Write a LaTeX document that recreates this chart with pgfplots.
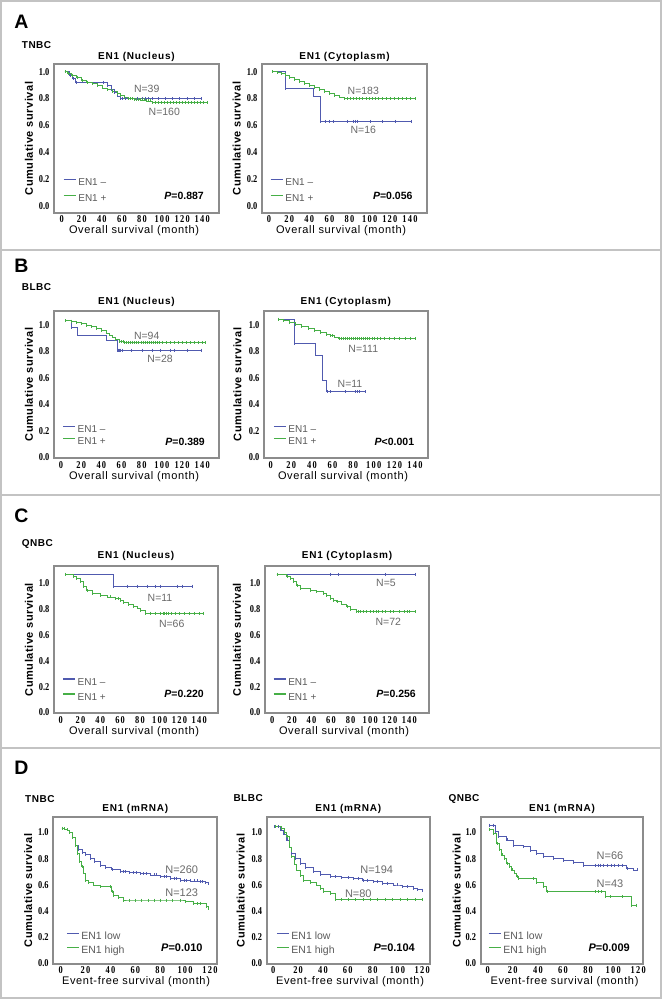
\documentclass[border=0pt]{standalone}
\usepackage{pgfplots}
\pgfplotsset{compat=1.18}
\usepackage{fontspec}
\setmainfont{Liberation Sans}
\newfontfamily\tickfont[FakeStretch=0.8]{Liberation Serif}
\definecolor{cblue}{RGB}{80,90,175}
\definecolor{cgreen}{RGB}{70,175,70}
\definecolor{boxgray}{RGB}{140,140,140}
\definecolor{framegray}{RGB}{195,195,195}
\definecolor{ngray}{RGB}{105,105,105}
\definecolor{leggray}{RGB}{90,90,90}
\newcommand\titlef{\fontsize{10}{12}\selectfont\bfseries\addfontfeatures{LetterSpace=8}}
\newcommand\ylabf{\fontsize{11}{13}\selectfont\bfseries\addfontfeatures{LetterSpace=5}}
\newcommand\xlabf{\fontsize{11}{13}\selectfont\addfontfeatures{LetterSpace=6}}
\newcommand\subf{\fontsize{10}{12}\selectfont\bfseries\addfontfeatures{LetterSpace=5}}
\newcommand\letf{\fontsize{19.5}{22}\selectfont\bfseries}
\newcommand\nf{\fontsize{10.5}{12}\selectfont\color{ngray}}
\newcommand\nfd{\fontsize{11}{13}\selectfont\color{ngray}}
\newcommand\pf{\fontsize{10.5}{12}\selectfont\bfseries}
\newcommand\pfd{\fontsize{11}{13}\selectfont\bfseries}
\newcommand\legf{\fontsize{10}{12}\selectfont}
\newcommand\legfd{\fontsize{10.5}{12}\selectfont}
\newcommand\ytickf{\tickfont\bfseries\fontsize{10.5}{11}\selectfont}
\newcommand\xtickf{\tickfont\bfseries\fontsize{10.5}{11}\selectfont\addfontfeatures{LetterSpace=12}}
\newcommand\lt[1]{\textcolor{leggray}{#1}}
\pgfplotsset{
  kmbase/.style={
    scale only axis, anchor=north west,
    axis line style={draw=boxgray, line width=2pt},
    tick style={draw=none},
    ytick={0,0.2,0.4,0.6,0.8,1.0},
    yticklabels={0.0,0.2,0.4,0.6,0.8,1.0},
    yticklabel style={font=\ytickf, inner sep=0pt, anchor=east, xshift=-4.5pt},
    xticklabel style={font=\xtickf, inner sep=0pt, anchor=north, yshift=-3pt},
    legend cell align=left,
    legend style={draw=none, fill=none, anchor=west, font=\legf,
      nodes={inner xsep=2pt, inner ysep=0pt, text height=7pt, text depth=2pt}},
    legend image code/.code={\draw[##1, mark=none, line width=1.2pt] (0pt,3.5pt) -- (12pt,3.5pt);},
    every axis plot/.append style={const plot, line width=0.6pt, mark=|, mark size=1.5pt, mark options={line width=0.35pt}},
  },
  osx/.style={xtick={0,20,40,60,80,100,120,140}, xticklabels={0,20,40,60,80,100,120,140}},
  efx/.style={xtick={0,20,40,60,80,100,120}, xticklabels={0,20,40,60,80,100,120}, legend style={font=\legfd}},
}
\begin{document}
\begin{tikzpicture}
\useasboundingbox (0pt,0pt) rectangle (663pt,-1001pt);
\begin{scope}[x=1pt,y=-1pt]
\draw[framegray, line width=1.2pt] (1,1) rectangle (661,998);
\draw[framegray, line width=1.2pt] (1,250) -- (661,250);
\draw[framegray, line width=1.2pt] (1,495) -- (661,495);
\draw[framegray, line width=1.2pt] (1,748) -- (661,748);
% letters
\node at (21.5,22) {\letf A};
\node at (21.5,265.5) {\letf B};
\node at (21.5,515.5) {\letf C};
\node at (21.5,767.5) {\letf D};
% subgroup labels
\node[anchor=west, inner sep=0pt] at (21.7,44.7) {\subf TNBC};
\node[anchor=west, inner sep=0pt] at (21.7,286.7) {\subf BLBC};
\node[anchor=west, inner sep=0pt] at (21.7,544) {\subf QNBC};
\node[anchor=west, inner sep=0pt] at (25,799.3) {\subf TNBC};
\node[anchor=west, inner sep=0pt] at (233.3,798.3) {\subf BLBC};
\node[anchor=west, inner sep=0pt] at (448.3,799.3) {\subf QNBC};
% titles
\node at (136.5,57) {\titlef EN1 (Nucleus)};
\node at (344.5,57) {\titlef EN1 (Cytoplasm)};
\node at (136.5,302.3) {\titlef EN1 (Nucleus)};
\node at (345.8,302.3) {\titlef EN1 (Cytoplasm)};
\node at (136,556) {\titlef EN1 (Nucleus)};
\node at (347,556) {\titlef EN1 (Cytoplasm)};
\node at (135.3,809) {\titlef EN1 (mRNA)};
\node at (348.3,809) {\titlef EN1 (mRNA)};
\node at (562,809) {\titlef EN1 (mRNA)};
% y labels
\foreach \xx/\yy in {29/138.5,236.7/138.5,29/384.5,237.5/384.5,29/639.7,237/639.7,28.3/890.5,240.7/890.5,456.7/890.5}
  \node[rotate=90] at (\xx,\yy) {\ylabf Cumulative survival};
% x labels
\node at (134,231) {\xlabf Overall survival (month)};
\node at (341,231) {\xlabf Overall survival (month)};
\node at (134,477) {\xlabf Overall survival (month)};
\node at (343,477) {\xlabf Overall survival (month)};
\node at (134,732) {\xlabf Overall survival (month)};
\node at (344,732) {\xlabf Overall survival (month)};
\node at (136,981.7) {\xlabf Event-free survival (month)};
\node at (350,981.7) {\xlabf Event-free survival (month)};
\node at (564.5,981.7) {\xlabf Event-free survival (month)};
% N labels
\node at (146.7,89.3) {\nf N=39};
\node at (164.3,112.3) {\nf N=160};
\node at (363.3,90.7) {\nf N=183};
\node at (363.3,130) {\nf N=16};
\node at (146.7,335.7) {\nf N=94};
\node at (160,359.3) {\nf N=28};
\node at (363.3,349) {\nf N=111};
\node at (350,384.3) {\nf N=11};
\node at (160,598.3) {\nf N=11};
\node at (171.7,624.3) {\nf N=66};
\node at (386,583.3) {\nf N=5};
\node at (388.3,622.3) {\nf N=72};
\node at (181.7,869.3) {\nfd N=260};
\node at (181.7,892.7) {\nfd N=123};
\node at (376.7,869.3) {\nfd N=194};
\node at (358.3,893.3) {\nfd N=80};
\node at (610,855.7) {\nfd N=66};
\node at (610,884) {\nfd N=43};
% P values
\node[anchor=east, inner sep=0pt] at (204,196) {\pf\textit{P}=0.887};
\node[anchor=east, inner sep=0pt] at (412.7,196) {\pf\textit{P}=0.056};
\node[anchor=east, inner sep=0pt] at (205,441.7) {\pf\textit{P}=0.389};
\node[anchor=east, inner sep=0pt] at (414.3,441.7) {\pf\textit{P}<0.001};
\node[anchor=east, inner sep=0pt] at (204,694) {\pf\textit{P}=0.220};
\node[anchor=east, inner sep=0pt] at (416,694) {\pf\textit{P}=0.256};
\node[anchor=east, inner sep=0pt] at (202.7,947.3) {\pfd\textit{P}=0.010};
\node[anchor=east, inner sep=0pt] at (415,947.7) {\pfd\textit{P}=0.104};
\node[anchor=east, inner sep=0pt] at (630,947.3) {\pfd\textit{P}=0.009};
\end{scope}

% ===== A: TNBC nucleus
\begin{axis}[kmbase, osx, at={(54pt,-64.3pt)}, width=165pt, height=148.4pt,
  xmin=-7.67, xmax=156.7, ymin=-0.0499, ymax=1.055,
  legend style={at={(0.036,0.144)}, row sep=7pt}]
\addplot[cblue] coordinates {(3,1.0)(8,0.975)(11,0.95)(14,0.92)(41,0.92)(45,0.895)(49,0.87)(52,0.845)(55,0.82)(58,0.80)(60,0.80)(63,0.80)(66,0.80)(70,0.80)(75,0.80)(80,0.80)(83,0.80)(86,0.80)(90,0.80)(96,0.80)(103,0.80)(110,0.80)(117,0.80)(125,0.80)(132,0.80)(139,0.80)};
\addplot[cgreen] coordinates {(3,1.0)(6,0.99)(10,0.975)(15,0.96)(20,0.935)(25,0.922)(30,0.91)(35,0.895)(40,0.88)(45,0.868)(50,0.855)(55,0.84)(58,0.825)(62,0.81)(66,0.80)(68,0.80)(70,0.80)(72,0.795)(74,0.795)(76,0.795)(78,0.79)(80,0.79)(82,0.79)(84,0.782)(86,0.782)(88,0.782)(90,0.772)(93,0.772)(96,0.772)(99,0.772)(102,0.772)(105,0.772)(108,0.772)(111,0.772)(114,0.772)(117,0.772)(120,0.772)(123,0.772)(126,0.772)(129,0.772)(132,0.772)(135,0.772)(138,0.772)(141,0.772)(145,0.772)};
\legend{\lt{EN1 –}, \lt{EN1 +}}
\end{axis}

% ===== A: TNBC cytoplasm
\begin{axis}[kmbase, osx, at={(262pt,-64.3pt)}, width=164.7pt, height=148.4pt,
  xmin=-6.95, xmax=156.6, ymin=-0.0499, ymax=1.055,
  legend style={at={(0.030,0.144)}, row sep=7pt}]
\addplot[cblue] coordinates {(3,1.0)(16,0.875)(44,0.82)(51,0.63)(56,0.63)(60,0.63)(64,0.63)(78,0.63)(84,0.63)(86,0.63)(88,0.63)(100,0.63)(112,0.63)(125,0.63)(141,0.63)};
\addplot[cgreen] coordinates {(3,1.0)(8,0.995)(12,0.985)(16,0.97)(20,0.96)(25,0.945)(30,0.93)(35,0.915)(40,0.90)(45,0.885)(50,0.87)(55,0.855)(60,0.84)(65,0.825)(70,0.812)(75,0.80)(78,0.80)(81,0.80)(84,0.80)(87,0.80)(90,0.80)(93,0.80)(96,0.80)(99,0.80)(102,0.80)(105,0.80)(108,0.80)(112,0.80)(116,0.80)(120,0.80)(124,0.80)(128,0.80)(132,0.80)(136,0.80)(140,0.80)(145,0.80)};
\legend{\lt{EN1 –}, \lt{EN1 +}}
\end{axis}

% ===== B: BLBC nucleus
\begin{axis}[kmbase, osx, at={(54pt,-310.7pt)}, width=165pt, height=147.6pt,
  xmin=-6.9, xmax=156.6, ymin=-0.006, ymax=1.108,
  legend style={at={(0.032,0.151)}, row sep=3.4pt}]
\addplot[cblue] coordinates {(4,1.032)(10.5,0.983)(16,0.925)(44.5,0.887)(55.8,0.811)(57,0.811)(58,0.811)(59,0.811)(61,0.811)(70,0.811)(80,0.811)(90,0.811)(98,0.811)(108,0.811)(112,0.811)(125,0.811)(139,0.811)};
\addplot[cgreen] coordinates {(4,1.032)(10,1.03)(15,1.02)(20,1.01)(25,1.0)(30,0.99)(35,0.975)(40,0.962)(45,0.94)(48,0.925)(51,0.91)(54,0.89)(58,0.874)(60,0.874)(62,0.874)(63,0.866)(65,0.866)(67,0.866)(69,0.866)(71,0.866)(73,0.866)(75,0.866)(77,0.866)(79,0.866)(81,0.866)(83,0.866)(85,0.866)(87,0.866)(89,0.866)(91,0.866)(93,0.866)(95,0.866)(97,0.866)(100,0.866)(104,0.866)(108,0.866)(112,0.866)(116,0.866)(120,0.866)(124,0.866)(128,0.866)(132,0.866)(136,0.866)(140,0.866)(143,0.866)};
\legend{\lt{EN1 –}, \lt{EN1 +}}
\end{axis}

% ===== B: BLBC cytoplasm
\begin{axis}[kmbase, osx, at={(264pt,-310.7pt)}, width=163.7pt, height=147.6pt,
  xmin=-6.5, xmax=152.3, ymin=-0.006, ymax=1.108,
  legend style={at={(0.037,0.151)}, row sep=3.4pt}]
\addplot[cblue] coordinates {(7.4,1.043)(22.9,0.862)(43,0.774)(50.4,0.585)(54.3,0.497)(58,0.497)(72,0.497)(82,0.497)(84,0.497)(86,0.497)(91.5,0.497)};
\addplot[cgreen] coordinates {(7.4,1.043)(12,1.035)(18,1.02)(24,1.005)(30,0.99)(36,0.975)(42,0.96)(48,0.945)(54,0.93)(58,0.92)(60,0.92)(62,0.91)(66,0.90)(68,0.90)(70,0.90)(72,0.90)(74,0.90)(76,0.90)(78,0.90)(80,0.90)(82,0.90)(84,0.90)(86,0.90)(88,0.90)(90,0.90)(92,0.90)(94,0.90)(96,0.90)(98,0.90)(100,0.90)(103,0.90)(106,0.90)(110,0.90)(115,0.90)(120,0.90)(125,0.90)(130,0.90)(135,0.90)(140,0.90)};
\legend{\lt{EN1 –}, \lt{EN1 +}}
\end{axis}

% ===== C: QNBC nucleus
\begin{axis}[kmbase, osx, at={(54pt,-566pt)}, width=164pt, height=147.3pt,
  xmin=-6.8, xmax=158.9, ymin=-0.006, ymax=1.134,
  legend style={at={(0.032,0.158)}, row sep=6pt}]
\addplot[cblue] coordinates {(4.3,1.07)(53.1,0.979)(66.7,0.979)(76.8,0.979)(86.9,0.979)(95.3,0.979)(100.3,0.979)(117.2,0.979)(122.2,0.979)(132.3,0.979)};
\addplot[cgreen] coordinates {(4.3,1.07)(12.7,1.056)(16,1.035)(19.5,1.012)(23,0.975)(26.3,0.943)(32,0.925)(39.7,0.909)(47,0.895)(50,0.895)(55,0.884)(58.2,0.884)(60,0.87)(63.2,0.85)(68,0.835)(73.3,0.824)(77,0.81)(80.1,0.793)(85.2,0.768)(90,0.768)(95,0.768)(100,0.768)(103,0.768)(105,0.768)(107,0.768)(109,0.768)(112,0.768)(116,0.768)(120,0.768)(125,0.768)(130,0.768)(135,0.768)(140,0.768)(144,0.768)};
\legend{\lt{EN1 –}, \lt{EN1 +}}
\end{axis}

% ===== C: QNBC cytoplasm
\begin{axis}[kmbase, osx, at={(265pt,-566pt)}, width=164pt, height=147.3pt,
  xmin=-7.46, xmax=160.1, ymin=-0.006, ymax=1.134,
  legend style={at={(0.030,0.158)}, row sep=6pt}]
\addplot[cblue] coordinates {(4.5,1.07)(59,1.07)(67.4,1.07)(115,1.07)(145.8,1.07)};
\addplot[cgreen] coordinates {(4.5,1.07)(14.7,1.056)(18,1.035)(21.4,1.012)(25,0.985)(28.3,0.961)(38.5,0.948)(45,0.935)(52.1,0.923)(55,0.905)(58.9,0.884)(62,0.87)(65.8,0.858)(70,0.84)(76,0.819)(80,0.80)(86.2,0.78)(88,0.78)(90,0.78)(93,0.78)(96,0.78)(100,0.78)(103,0.78)(106,0.78)(108,0.78)(112,0.78)(115,0.78)(120,0.78)(124,0.78)(130,0.78)(135,0.78)(138,0.78)(140,0.78)(145.8,0.78)};
\legend{\lt{EN1 –}, \lt{EN1 +}}
\end{axis}

% ===== D: TNBC mRNA
\begin{axis}[kmbase, efx, at={(53.3pt,-817.3pt)}, width=164pt, height=146.4pt,
  xmin=-5.95, xmax=125.9, ymin=-0.005, ymax=1.1165,
  legend style={at={(0.059,0.135)}, row sep=4.4pt}]
\addplot[cblue] coordinates {(0.8,1.032)(3,1.028)(5,1.02)(7,1.0)(9,0.96)(11.5,0.90)(14,0.87)(17,0.85)(20,0.83)(23.6,0.80)(27,0.78)(31.6,0.75)(36,0.73)(41,0.715)(47.7,0.70)(50,0.70)(52,0.70)(55,0.695)(58,0.695)(61,0.695)(63.8,0.687)(66,0.687)(69,0.687)(72,0.675)(75,0.675)(77,0.675)(79.8,0.661)(83,0.661)(85,0.661)(88,0.648)(91,0.648)(93,0.648)(95.9,0.636)(99,0.636)(101,0.636)(104,0.63)(107,0.63)(110,0.63)(112,0.623)(114,0.623)(116,0.615)(118.6,0.611)};
\addplot[cgreen] coordinates {(0.8,1.032)(3,1.028)(5,1.02)(7,1.0)(9,0.96)(11.5,0.90)(13,0.84)(15,0.78)(16.9,0.738)(18,0.69)(19.5,0.636)(22,0.62)(26.2,0.598)(32,0.59)(39.6,0.585)(41,0.55)(42.3,0.521)(46,0.50)(50.3,0.483)(55,0.483)(60,0.483)(65,0.483)(70,0.483)(75,0.483)(80,0.483)(85,0.483)(90,0.483)(96,0.483)(100,0.47)(106.6,0.457)(110,0.457)(112,0.457)(117.3,0.431)(118.6,0.419)};
\legend{\lt{EN1 low}, \lt{EN1 high}}
\end{axis}

% ===== D: BLBC mRNA
\begin{axis}[kmbase, efx, at={(266.7pt,-817.3pt)}, width=163.3pt, height=146.4pt,
  xmin=-5.3, xmax=126.2, ymin=-0.005, ymax=1.1165,
  legend style={at={(0.039,0.135)}, row sep=4.4pt}]
\addplot[cblue] coordinates {(0.8,1.044)(4,1.044)(6,1.02)(8,0.99)(10.8,0.943)(12.8,0.89)(14.8,0.841)(18,0.80)(21.5,0.764)(26,0.73)(32.2,0.70)(38,0.68)(45.7,0.661)(50,0.661)(55,0.655)(60,0.655)(64.4,0.649)(68,0.649)(72,0.636)(76,0.636)(80.5,0.623)(84,0.623)(88,0.61)(92,0.61)(96.6,0.598)(100,0.598)(104,0.585)(108,0.585)(112.7,0.572)(116,0.565)(119.5,0.559)};
\addplot[cgreen] coordinates {(1.3,1.049)(6.6,1.03)(8.5,1.0)(10.8,0.968)(12.8,0.89)(14.8,0.815)(16.8,0.76)(18.8,0.713)(21.5,0.67)(24.2,0.636)(30,0.615)(34.9,0.598)(37.5,0.57)(40.3,0.547)(45.7,0.534)(49.7,0.488)(55,0.488)(60,0.488)(66,0.488)(72,0.488)(78,0.488)(84,0.488)(90,0.488)(96,0.488)(102,0.488)(108,0.488)(114,0.488)(119.5,0.488)};
\legend{\lt{EN1 low}, \lt{EN1 high}}
\end{axis}

% ===== D: QNBC mRNA
\begin{axis}[kmbase, efx, at={(480.7pt,-817.3pt)}, width=162.6pt, height=146.4pt,
  xmin=-5.6, xmax=124.0, ymin=-0.005, ymax=1.1165,
  legend style={at={(0.026,0.135)}, row sep=4.4pt}]
\addplot[cblue] coordinates {(1.3,1.057)(4,1.057)(5.8,1.006)(8.5,0.968)(15.1,0.943)(20.4,0.904)(28.4,0.891)(33.7,0.866)(39,0.841)(44.3,0.815)(52,0.80)(60.2,0.789)(68,0.77)(76.2,0.751)(86,0.751)(88,0.751)(90,0.751)(92,0.751)(95,0.751)(98,0.751)(101,0.751)(104,0.751)(107,0.751)(110.8,0.726)(116,0.713)(119,0.713)};
\addplot[cgreen] coordinates {(1.3,1.025)(4.5,0.994)(7.2,0.917)(9,0.87)(11.2,0.828)(13,0.80)(15.1,0.764)(17,0.74)(19.1,0.713)(21,0.69)(23.1,0.661)(24.4,0.649)(36.4,0.649)(39,0.615)(44.3,0.585)(47,0.546)(85.5,0.546)(88.1,0.546)(90.8,0.546)(93.5,0.508)(97.5,0.508)(106.8,0.508)(114.7,0.444)(118.7,0.444)};
\legend{\lt{EN1 low}, \lt{EN1 high}}
\end{axis}
\end{tikzpicture}
\end{document}
